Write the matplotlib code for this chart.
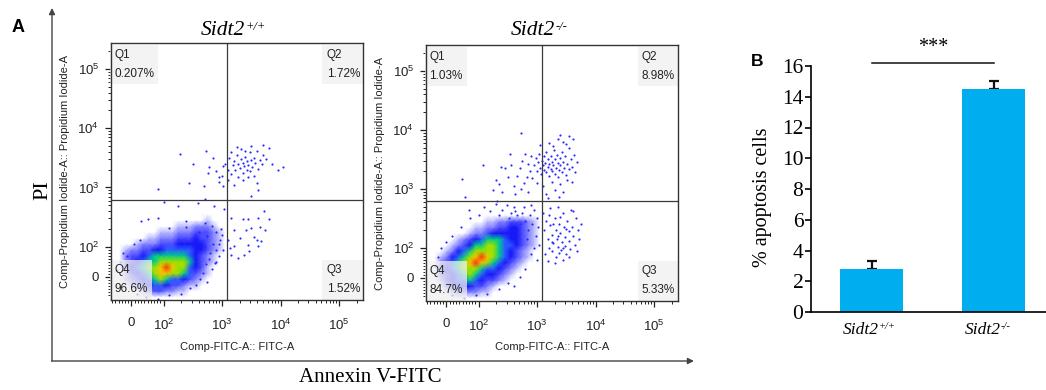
import numpy as np
import matplotlib
matplotlib.use("Agg")
import matplotlib.pyplot as plt
from matplotlib.colors import to_rgb

plt.rcParams["font.family"] = "Liberation Sans"
plt.rcParams["mathtext.fontset"] = "custom"
plt.rcParams["mathtext.rm"] = "Liberation Sans"
plt.rcParams["mathtext.it"] = "Liberation Sans:italic"

SERIF = "Liberation Serif"

# ---------------- data ----------------
# flow panels are in display channel units (1 unit = 1 decade of the biex axis)
quad_names = ["Q1", "Q2", "Q3", "Q4"]
wt_pct = [0.207, 1.72, 1.52, 96.6]
ko_pct = [1.03, 8.98, 5.33, 84.7]
genotype_sup = ["+/+", "-/-"]

gate_x = 3.08
gate_y = 2.79

# density of the main cloud sampled at points x = 1.25..2.95, y = 2.45 (top row)..1.25
wt_density = [
    "000000000000000100",
    "000000000011122210",
    "000000011122233321",
    "000001122233343321",
    "000122233344444321",
    "012233445555544321",
    "023345666666543210",
    "023456677777643210",
    "024567789877543100",
    "013456788776532100",
    "012345676554321000",
    "001234554332110000",
    "000012332211000000",
]
ko_density = [
    "000000000112233321",
    "000000011223344321",
    "000000122344444321",
    "000012345666544321",
    "000123466776554321",
    "001245677776543210",
    "012456789876543210",
    "023567898765432100",
    "024567776554321000",
    "023456765443210000",
    "013455654332100000",
    "002344433210000000",
    "000122221100000000",
]

# sparse events outside the main cloud
wt_dots = [
    (3.05, 3.40), (3.10, 3.30), (3.12, 3.50), (3.15, 3.22), (3.18, 3.38), (3.20, 3.45),
    (3.22, 3.30), (3.25, 3.55), (3.27, 3.18), (3.28, 3.40), (3.30, 3.33), (3.32, 3.48),
    (3.35, 3.25), (3.36, 3.42), (3.38, 3.36), (3.40, 3.52), (3.42, 3.30), (3.43, 3.44),
    (3.45, 3.38), (3.47, 3.60), (3.48, 3.28), (3.50, 3.46), (3.52, 3.35), (3.55, 3.50),
    (3.57, 3.42), (3.60, 3.62), (3.62, 3.32), (3.65, 3.47), (3.68, 3.40), (3.70, 3.55),
    (3.75, 3.48), (3.80, 3.66), (3.85, 3.40), (3.95, 3.30), (4.05, 3.35), (3.00, 3.20),
    (2.95, 3.10), (2.90, 3.28), (3.02, 3.02), (3.10, 3.12), (3.20, 3.05), (3.35, 3.12),
    (3.45, 3.18), (3.55, 3.20), (3.60, 3.08), (3.40, 3.62), (3.33, 3.65), (3.25, 3.68),
    (3.50, 3.70), (3.70, 3.72), (3.15, 3.60), (2.85, 3.50), (2.78, 3.35), (3.62, 2.95),
    (3.50, 2.85), (2.28, 3.56), (1.90, 2.98), (2.50, 3.39), (2.43, 3.08), (2.72, 3.61),
    (2.69, 3.02), (2.76, 3.25), (2.95, 3.17), (3.02, 3.36),
    (2.00, 2.75), (2.24, 2.68), (1.62, 2.44), (1.74, 2.46), (1.91, 2.49), (2.38, 2.44),
    (2.59, 2.73), (2.86, 2.68), (2.09, 2.31), (2.38, 2.34), (2.71, 2.80), (3.03, 2.63),
    (3.16, 2.49), (3.36, 2.46), (3.44, 2.47), (3.50, 2.32), (3.21, 2.29), (3.41, 2.29),
    (3.62, 2.49), (3.71, 2.60), (3.65, 2.34), (3.73, 2.29), (3.54, 2.17), (3.31, 2.15),
    (3.21, 2.01), (3.16, 1.86), (3.44, 2.03), (3.59, 2.12), (3.10, 2.12), (3.13, 1.98),
    (3.67, 2.09), (3.61, 2.01), (3.46, 1.92), (3.38, 1.86), (3.27, 1.81), (3.80, 2.47),
    (3.00, 2.20), (2.95, 2.05), (3.02, 1.95), (2.90, 1.75), (2.98, 2.30),
    (2.60, 2.25), (2.65, 2.10), (2.70, 2.00), (2.75, 2.18), (2.80, 1.90), (2.85, 2.05),
    (2.90, 1.95), (2.78, 1.80), (2.72, 1.70), (2.88, 1.72), (2.95, 1.85), (2.68, 1.55),
    (2.82, 1.62), (2.62, 1.45), (2.75, 1.40), (2.55, 1.35), (2.90, 2.25), (2.97, 2.12),
    (2.83, 2.35), (2.70, 2.40),
    (1.20, 1.60), (1.25, 1.75), (1.30, 1.90), (1.38, 1.85), (1.50, 2.05), (1.60, 2.12),
    (1.55, 1.20), (1.70, 1.15), (1.90, 1.12), (2.10, 1.18), (2.30, 1.20), (2.45, 1.30),
]
ko_dots = [
    (2.95, 3.40), (2.98, 3.52), (3.00, 3.30), (3.02, 3.45), (3.04, 3.60), (3.05, 3.36),
    (3.07, 3.25), (3.08, 3.48), (3.10, 3.40), (3.11, 3.55), (3.12, 3.32), (3.14, 3.44),
    (3.15, 3.62), (3.16, 3.28), (3.18, 3.38), (3.19, 3.50), (3.20, 3.42), (3.21, 3.22),
    (3.23, 3.34), (3.24, 3.56), (3.25, 3.46), (3.26, 3.30), (3.28, 3.40), (3.29, 3.66),
    (3.30, 3.50), (3.31, 3.26), (3.33, 3.36), (3.34, 3.58), (3.35, 3.44), (3.36, 3.20),
    (3.38, 3.32), (3.39, 3.52), (3.40, 3.40), (3.42, 3.62), (3.43, 3.28), (3.45, 3.46),
    (3.46, 3.36), (3.48, 3.55), (3.50, 3.24), (3.52, 3.42), (3.54, 3.70), (3.55, 3.33),
    (3.58, 3.50), (3.60, 3.38), (3.63, 3.58), (3.65, 3.28), (3.68, 3.45),
    (3.05, 3.75), (3.20, 3.78), (3.35, 3.85), (3.45, 3.80), (3.55, 3.90), (3.62, 3.85),
    (3.40, 3.92), (3.28, 3.72), (3.50, 3.76),
    (3.00, 3.10), (3.10, 3.05), (3.25, 3.12), (3.40, 3.08), (3.52, 3.15), (3.30, 2.98),
    (3.15, 2.92), (3.45, 2.95), (3.60, 3.12), (2.92, 3.18), (3.18, 2.85), (3.38, 2.86),
    (2.90, 3.55), (2.85, 3.42), (2.80, 3.60), (2.75, 3.48), (2.88, 3.30), (2.70, 3.35),
    (2.82, 3.20), (2.65, 3.22), (2.78, 3.10), (2.60, 3.05), (2.55, 3.40), (2.50, 3.20),
    (2.72, 3.00), (2.45, 3.35), (2.40, 2.95), (2.30, 3.15), (2.62, 2.92), (2.85, 2.95),
    (2.72, 3.94), (2.08, 3.41), (1.72, 3.16), (1.77, 2.87), (2.24, 2.99), (2.34, 3.08),
    (2.54, 3.59), (2.38, 3.38), (1.83, 2.64), (2.32, 2.79),
    (3.10, 2.60), (3.15, 2.45), (3.12, 2.30), (3.18, 2.15), (3.20, 2.00), (3.14, 1.90),
    (3.22, 2.38), (3.25, 2.22), (3.28, 2.08), (3.26, 1.95), (3.30, 2.50), (3.32, 2.30),
    (3.34, 2.15), (3.35, 2.02), (3.33, 1.85), (3.38, 2.40), (3.40, 2.25), (3.42, 2.10),
    (3.41, 1.96), (3.44, 2.60), (3.46, 2.35), (3.48, 2.18), (3.47, 2.04), (3.50, 1.90),
    (3.52, 2.45), (3.54, 2.28), (3.55, 2.12), (3.57, 1.98), (3.60, 2.35), (3.62, 2.20),
    (3.64, 2.05), (3.66, 2.50), (3.70, 2.30), (3.72, 2.15), (3.58, 2.65), (3.36, 2.70),
    (3.22, 2.68), (3.45, 1.80), (3.30, 1.75), (3.18, 1.78), (3.40, 2.52), (3.28, 2.40),
    (3.50, 2.32), (3.35, 2.20), (3.25, 2.10), (3.44, 2.00), (3.38, 1.92), (3.20, 2.55),
    (3.62, 2.62), (3.75, 2.40), (3.68, 1.95), (3.55, 1.85),
    (2.95, 2.65), (3.00, 2.50), (3.02, 2.35), (2.98, 2.20), (3.04, 2.05), (2.92, 2.40),
    (2.88, 2.55), (2.85, 2.30), (2.80, 2.45), (2.75, 2.60), (2.70, 2.40), (2.95, 2.00),
    (2.90, 1.90), (3.00, 1.80), (2.82, 2.15), (2.65, 2.55), (2.60, 2.70), (2.55, 2.60),
    (2.48, 2.72), (2.40, 2.65), (2.35, 2.55), (2.30, 2.75), (2.20, 2.62), (2.10, 2.70),
    (2.00, 2.55), (1.85, 2.50), (2.62, 2.62), (2.78, 2.70), (2.90, 2.72), (2.52, 2.50),
    (1.25, 1.70), (1.30, 1.85), (1.35, 2.00), (1.45, 2.10), (1.55, 2.20), (1.70, 2.35),
    (1.55, 1.20), (1.75, 1.15), (1.95, 1.20), (2.15, 1.22), (2.35, 1.30), (2.50, 1.40),
    (2.70, 1.50), (2.80, 1.65), (2.60, 1.35),
]

# panel B
bar_labels = ["Sidt2", "Sidt2"]
bar_means = [2.8, 14.5]
bar_err = [0.5, 0.5]

# ---------------- styling helpers ----------------
# colour and strength (mixed over white) for each density level 0..9
level_colors = ["#2020ff", "#2020ff", "#2020ff", "#2020ff", "#1818f8", "#2a5cff",
                "#00cc88", "#9ee000", "#f5c400", "#ff3010"]
level_alpha = [0.0, 0.3, 0.55, 0.8, 1, 1, 1, 1, 1, 1]

x_zero, y_zero = 1.45, 1.49
dec_labels = ["0", "$10^2$", "$10^3$", "$10^4$", "$10^5$"]


def minor_positions(zero):
    lin = [zero + v / 100 * (2 - zero) for v in range(-60, 100, 10)]
    logs = [k + np.log10(m) for k in range(2, 6) for m in range(2, 10)]
    return [p for p in lin + logs if 1.1 < p < 5.4]


def draw_flow(ax, density, dots, pct):
    grid = np.array([[int(c) for c in row] for row in density])[::-1]
    grid = np.pad(grid, 1)  # empty ring so the cloud fades out
    rgb = np.ones(grid.shape + (3,))
    for lvl in range(1, 10):
        a = level_alpha[lvl]
        rgb[grid == lvl] = a * np.array(to_rgb(level_colors[lvl])) + (1 - a)
    xc = np.linspace(1.15, 3.05, grid.shape[1])
    yc = np.linspace(1.15, 2.55, grid.shape[0])
    X, Y = np.meshgrid(xc, yc)
    ax.pcolormesh(X, Y, rgb, shading="gouraud", zorder=1)

    pts = np.array(dots)
    ax.scatter(pts[:, 0], pts[:, 1], s=2.4, c="#2828ff", linewidths=0, zorder=2)

    ax.axvline(gate_x, color="#3a3a3a", lw=0.9, zorder=3)
    ax.axhline(gate_y, color="#3a3a3a", lw=0.9, zorder=3)

    spots = [(0.012, 0.978, "left", "top"), (0.988, 0.978, "right", "top"),
             (0.988, 0.018, "right", "bottom"), (0.012, 0.018, "left", "bottom")]
    for name, val, (px, py, ha, va) in zip(quad_names, pct, spots):
        ax.text(px, py, f"{name}\n{val:.3g}%", transform=ax.transAxes, ha=ha, va=va,
                multialignment="left", fontsize=8.5, linespacing=1.8, color="#222", zorder=5,
                bbox=dict(boxstyle="square,pad=0.35", fc="#f0f0f0", ec="none", alpha=0.75))

    ax.set_xlim(1.1, 5.41)
    ax.set_ylim(1.1, 5.44)
    ax.set_xticks([x_zero, 2, 3, 4, 5])
    ax.set_xticklabels(dec_labels)
    ax.set_yticks([y_zero, 2, 3, 4, 5])
    ax.set_yticklabels(dec_labels)
    ax.set_xticks(minor_positions(x_zero), minor=True)
    ax.set_yticks(minor_positions(y_zero), minor=True)
    ax.tick_params(axis="x", which="major", length=4.5, width=0.9, labelsize=9.5, pad=8)
    ax.tick_params(axis="y", which="major", length=4.5, width=0.9, labelsize=9.5, pad=4)
    ax.tick_params(which="minor", length=2.5, width=0.6)
    ax.tick_params(colors="#222")
    for sp in ax.spines.values():
        sp.set_linewidth(1.0)
        sp.set_color("#333")
        sp.set_zorder(6)


# ---------------- figure ----------------
W, H = 1046, 390
fig = plt.figure(figsize=(W / 100, H / 100), dpi=100)

canvas = fig.add_axes([0, 0, 1, 1])
canvas.set_xlim(0, W)
canvas.set_ylim(H, 0)
canvas.axis("off")

arrow = dict(arrowstyle="-|>", lw=1.0, color="#444", mutation_scale=9, shrinkA=0, shrinkB=0)
canvas.annotate("", xy=(52, 8), xytext=(52, 361), arrowprops=arrow)
canvas.annotate("", xy=(694, 361), xytext=(51.5, 361), arrowprops=arrow)
canvas.text(18, 27, "A", fontsize=13, fontweight="bold", ha="center", va="center")
canvas.text(757, 61, "B", fontsize=12.5, fontweight="bold", ha="center", va="center")
canvas.text(43, 190, "PI", family=SERIF, fontsize=16, rotation=90, ha="center", va="center")
canvas.text(370, 378, "Annexin V-FITC", family=SERIF, fontsize=15, ha="center", va="center")

flow_boxes = [(111, 43, 363, 300), (426, 45, 678, 301)]
title_right = [245, 555]
for i, (density, dots, pct) in enumerate([(wt_density, wt_dots, wt_pct),
                                          (ko_density, ko_dots, ko_pct)]):
    x0, y0, x1, y1 = flow_boxes[i]
    ax = fig.add_axes([x0 / W, 1 - y1 / H, (x1 - x0) / W, (y1 - y0) / H])
    draw_flow(ax, density, dots, pct)
    t = canvas.text(title_right[i], 35, "Sidt2", family=SERIF, style="italic",
                    fontsize=15.5, ha="right", va="baseline")
    canvas.annotate(genotype_sup[i], xy=(1, 1), xycoords=t, xytext=(0.5, 0),
                    textcoords="offset points", family=SERIF, style="italic",
                    fontsize=9, ha="left", va="top")
    canvas.text(x0 - 46, (y0 + y1) / 2, "Comp-Propidium Iodide-A:: Propidium Iodide-A",
                fontsize=8, rotation=90, ha="center", va="center", color="#222")
    canvas.text((x0 + x1) / 2, 347, "Comp-FITC-A:: FITC-A", fontsize=8,
                ha="center", va="center", color="#222")

# panel B bar chart
axb = fig.add_axes([811 / W, 1 - 312 / H, 235 / W, 246 / H])
xpos = np.arange(len(bar_means))
axb.errorbar(xpos, bar_means, yerr=[np.zeros(len(bar_err)), bar_err], fmt="none",
             ecolor="#111", elinewidth=1.6, capsize=3.5, capthick=1.6, zorder=1)
axb.bar(xpos, bar_means, width=0.516, color="#00aeef", zorder=2)
axb.set_xlim(-0.5, 1.43)
axb.set_ylim(0, 16)
axb.set_yticks(range(0, 17, 2))
axb.set_xticks([])
axb.spines[["top", "right"]].set_visible(False)
for sp in axb.spines.values():
    sp.set_linewidth(1.2)
axb.tick_params(axis="y", length=4, width=1.2, pad=1.5, labelsize=15.5)
for lab in axb.get_yticklabels():
    lab.set_family(SERIF)
for i, name in enumerate(bar_labels):
    t = axb.annotate(name, xy=(xpos[i], 0), xycoords=("data", "axes fraction"),
                     xytext=(-8, -7), textcoords="offset points", family=SERIF,
                     style="italic", fontsize=12.5, ha="center", va="top")
    axb.annotate(genotype_sup[i], xy=(1, 1), xycoords=t, xytext=(0.3, 0),
                 textcoords="offset points", family=SERIF, style="italic",
                 fontsize=7.5, ha="left", va="top")
axb.plot([0, 1], [16.2, 16.2], color="#111", lw=1.1, clip_on=False)
axb.text(0.5, 17.2, "***", family=SERIF, fontsize=14.5, ha="center", va="center")
canvas.text(763, 197, "% apoptosis cells", family=SERIF, fontsize=14.5, rotation=90,
            ha="center", va="center")

fig.savefig("out.png", dpi=100)
